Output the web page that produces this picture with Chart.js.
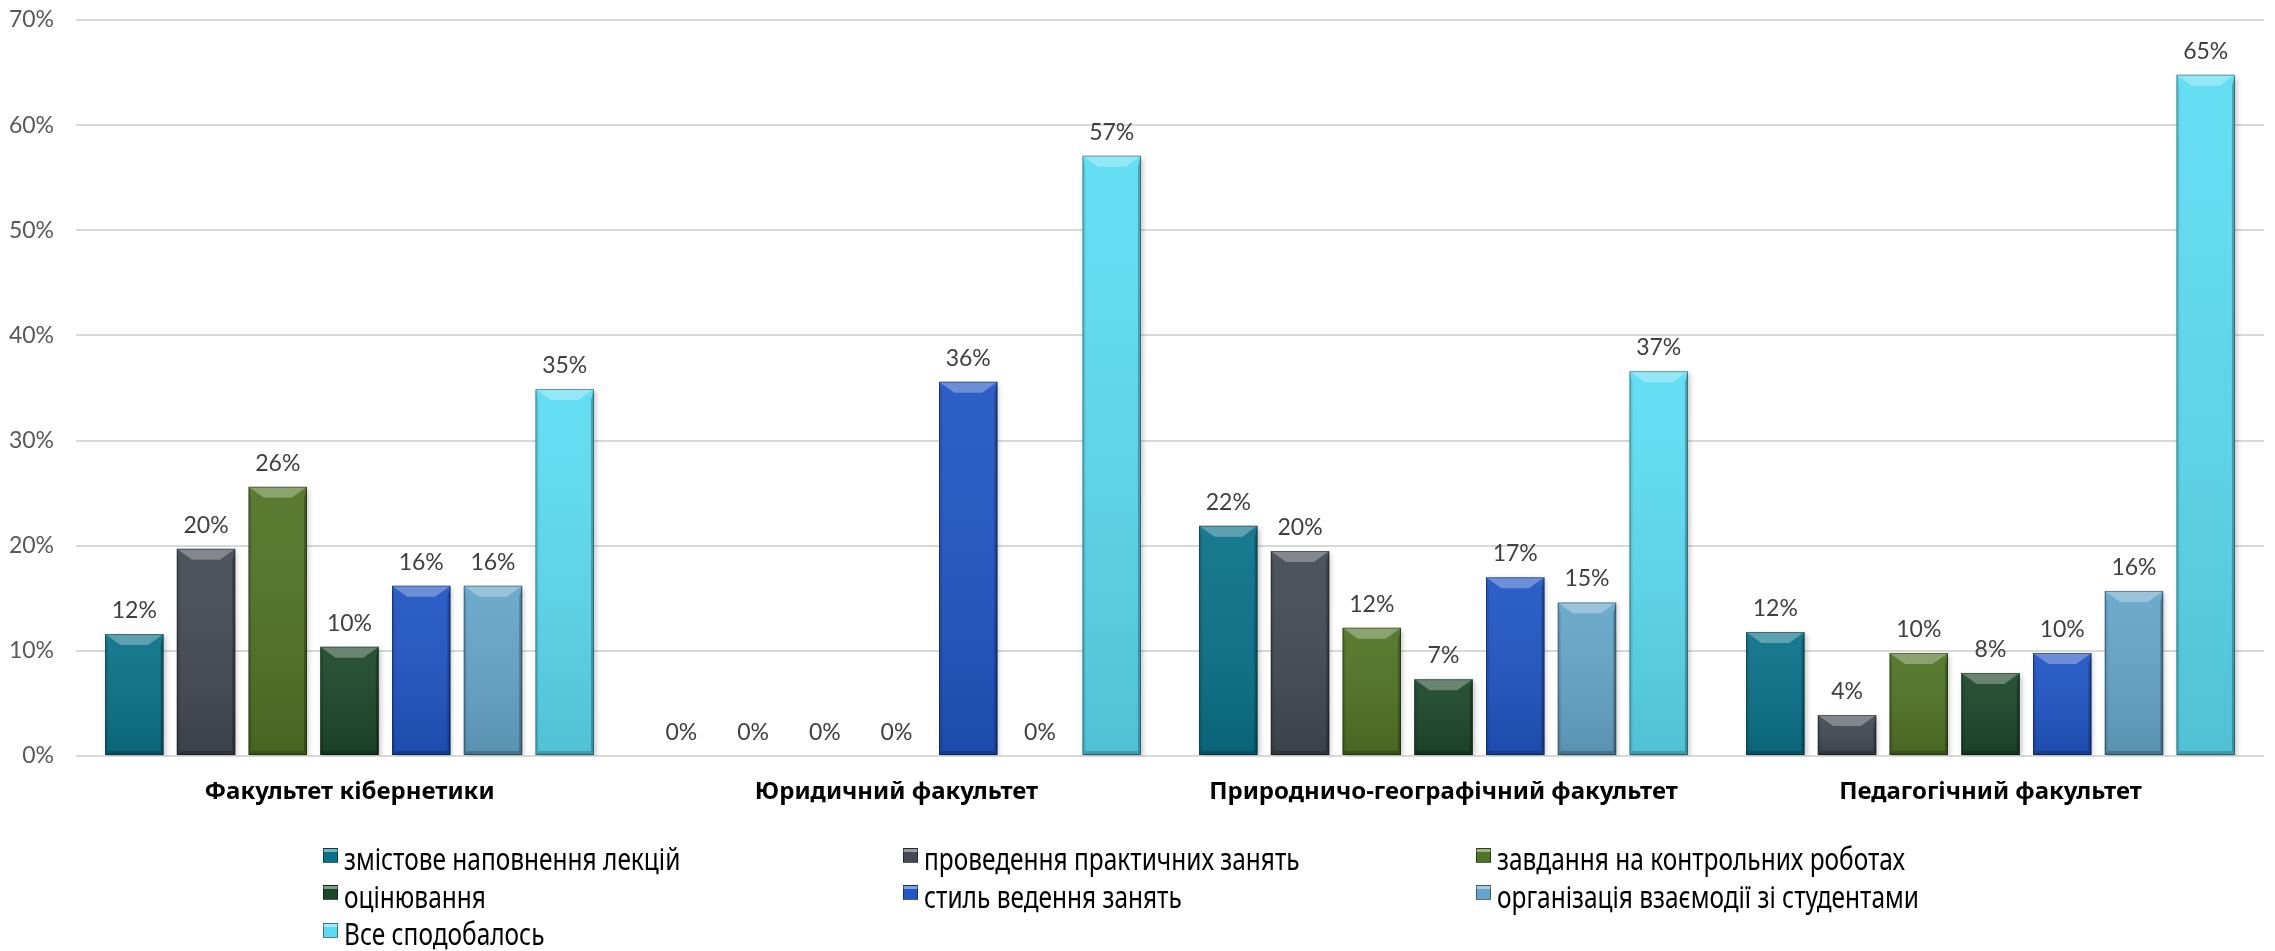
<!DOCTYPE html>
<html>
<head>
<meta charset="utf-8">
<script src="https://cdn.jsdelivr.net/npm/chart.js@4.4.1/dist/chart.umd.min.js"></script>
<style>
    html, body { margin: 0; padding: 0; background: #fff; }
    #wrap { position: relative; width: 2275px; height: 951px; }
    #legend {
        position: absolute; left: 323px; top: 840px;
        display: grid; grid-template-columns: 580px 573px 420px;
        font-family: 'Noto Sans', sans-serif; font-size: 30px; color: #000;
    }
    #legend .item { height: 37.5px; display: flex; align-items: center; white-space: nowrap; }
    #legend .box { width: 13px; height: 13px; margin-right: 6px; margin-top: -7px; border: 1px solid rgba(0,0,0,0.45); flex: none; }
    #legend .txt { display: inline-block; transform: scaleX(0.815); transform-origin: left center; }
</style>
</head>
<body>
<div id="wrap">
    <canvas id="bar-chart"></canvas>
    <div id="legend"></div>
</div>
<script>
var facultati = ['Факультет кібернетики', 'Юридичний факультет', 'Природничо-географічний факультет', 'Педагогічний факультет'];

var nomiSerie = ['змістове наповнення лекцій', 'проведення практичних занять', 'завдання на контрольних роботах',
    'оцінювання', 'стиль ведення занять', 'організація взаємодії зі студентами', 'Все сподобалось'];

var zmist = [11.6, 0, 21.9, 11.8];
var praktychni = [19.7, 0, 19.5, 3.9];
var zavdannia = [25.6, 0, 12.2, 9.8];
var otsiniuvannia = [10.4, 0, 7.3, 7.9];
var styl = [16.2, 35.6, 17.0, 9.8];
var vzaiemodiia = [16.2, 0, 14.6, 15.7];
var vseSpodobalos = [34.9, 57.1, 36.6, 64.8];

var yTicks = [0, 10, 20, 30, 40, 50, 60, 70];

var colori = ['#0a7189', '#434a53', '#4f7325', '#1c472a', '#2055c4', '#65a5c9', '#5cdcf2'];

var valori = [zmist, praktychni, zavdannia, otsiniuvannia, styl, vzaiemodiia, vseSpodobalos];

// bevel look of the bars, drawn over each element
var bevel = {
    id: 'bevel',
    beforeDatasetDraw: function(chart) {
        var ctx = chart.ctx;
        ctx.save();
        ctx.shadowColor = 'rgba(0,0,0,0.22)';
        ctx.shadowBlur = 5;
        ctx.shadowOffsetX = 2;
        ctx.shadowOffsetY = 2;
    },
    afterDatasetDraw: function(chart, args) {
        var ctx = chart.ctx;
        ctx.restore();
        var meta = args.meta;
        meta.data.forEach(function(bar) {
            var p = bar.getProps(['x', 'y', 'width', 'base'], true);
            var h = p.base - p.y;
            if (h < 1) return;
            var l = p.x - p.width / 2, r = p.x + p.width / 2, t = p.y, b = p.base;
            var s = Math.min(11, h / 2);
            ctx.save();
            var g = ctx.createLinearGradient(0, t, 0, b);
            g.addColorStop(0, 'rgba(255,255,255,0.06)');
            g.addColorStop(1, 'rgba(0,0,0,0.12)');
            ctx.fillStyle = g;
            ctx.fillRect(l, t, p.width, h);
            // top
            ctx.fillStyle = 'rgba(255,255,255,0.3)';
            ctx.beginPath();
            ctx.moveTo(l, t); ctx.lineTo(r, t); ctx.lineTo(r - s * 1.4, t + s); ctx.lineTo(l + s * 1.4, t + s);
            ctx.closePath(); ctx.fill();
            // left
            ctx.fillStyle = 'rgba(0,0,0,0.1)';
            ctx.beginPath();
            ctx.moveTo(l, t); ctx.lineTo(l + 3, t + s); ctx.lineTo(l + 3, b - 4); ctx.lineTo(l, b);
            ctx.closePath(); ctx.fill();
            // right
            ctx.fillStyle = 'rgba(0,0,0,0.25)';
            ctx.beginPath();
            ctx.moveTo(r, t); ctx.lineTo(r - 3, t + s); ctx.lineTo(r - 3, b - 4); ctx.lineTo(r, b);
            ctx.closePath(); ctx.fill();
            // bottom
            ctx.fillStyle = 'rgba(0,0,0,0.2)';
            ctx.beginPath();
            ctx.moveTo(l, b); ctx.lineTo(r, b); ctx.lineTo(r - 3, b - 4); ctx.lineTo(l + 3, b - 4);
            ctx.closePath(); ctx.fill();
            ctx.strokeStyle = 'rgba(0,0,0,0.35)';
            ctx.lineWidth = 1;
            ctx.strokeRect(l + 0.5, t + 0.5, p.width - 1, h - 1);
            ctx.restore();
        });
    }
};

// percentage labels above the bars
var etichette = {
    id: 'etichette',
    afterDatasetsDraw: function(chart) {
        var ctx = chart.ctx;
        ctx.save();
        ctx.font = '23px Lato, "Open Sans", sans-serif';
        ctx.fillStyle = '#404040';
        ctx.textAlign = 'center';
        ctx.textBaseline = 'alphabetic';
        chart.data.datasets.forEach(function(ds, i) {
            chart.getDatasetMeta(i).data.forEach(function(bar, j) {
                ctx.fillText(Math.round(ds.data[j]) + '%', bar.x, bar.y - 16);
            });
        });
        ctx.restore();
    }
};

var barChart = new Chart(document.getElementById('bar-chart'), {
    type: 'bar',
    data: {
        labels: facultati,
        datasets: nomiSerie.map(function(n, i) {
            return {
                label: n,
                data: valori[i],
                backgroundColor: colori[i],
                borderWidth: 0,
                barPercentage: 0.815,
                categoryPercentage: 0.918
            };
        })
    },
    options: {
        responsive: true,
        maintainAspectRatio: false,
        animation: false,
        layout: { padding: { top: 20, left: 0, right: 11, bottom: 0 } },
        plugins: {
            legend: { display: false },
            tooltip: { enabled: false }
        },
        scales: {
            x: {
                grid: { display: false, drawTicks: false },
                border: { display: false },
                ticks: {
                    padding: 22,
                    color: '#000',
                    font: { family: '"Noto Sans", sans-serif', size: 24, weight: 'bold' }
                },
                afterFit: function(scale) { scale.height = 195; }
            },
            y: {
                min: 0,
                max: 70,
                afterBuildTicks: function(scale) {
                    scale.ticks = yTicks.map(function(v) { return { value: v }; });
                },
                grid: { color: '#d9d9d9', lineWidth: 2, drawTicks: false },
                border: { display: false },
                ticks: {
                    padding: 22,
                    color: '#595959',
                    font: { family: 'Lato, "Open Sans", sans-serif', size: 23 },
                    callback: function(v) { return v + '%'; }
                },
                afterFit: function(scale) {
                    scale.width = 76;
                    scale.paddingTop = 12;
                    scale.paddingBottom = 12;
                }
            }
        }
    },
    plugins: [bevel, etichette]
});

var legenda = document.getElementById('legend');
nomiSerie.forEach(function(n, i) {
    var item = document.createElement('div');
    item.className = 'item';
    var box = document.createElement('span');
    box.className = 'box';
    box.style.background = 'linear-gradient(180deg, rgba(255,255,255,0.45) 0%, rgba(255,255,255,0.45) 25%, ' + colori[i] + ' 26%, ' + colori[i] + ' 100%)';
    box.style.backgroundColor = colori[i];
    var txt = document.createElement('span');
    txt.className = 'txt';
    txt.textContent = n;
    item.appendChild(box);
    item.appendChild(txt);
    legenda.appendChild(item);
});
</script>
</body>
</html>
